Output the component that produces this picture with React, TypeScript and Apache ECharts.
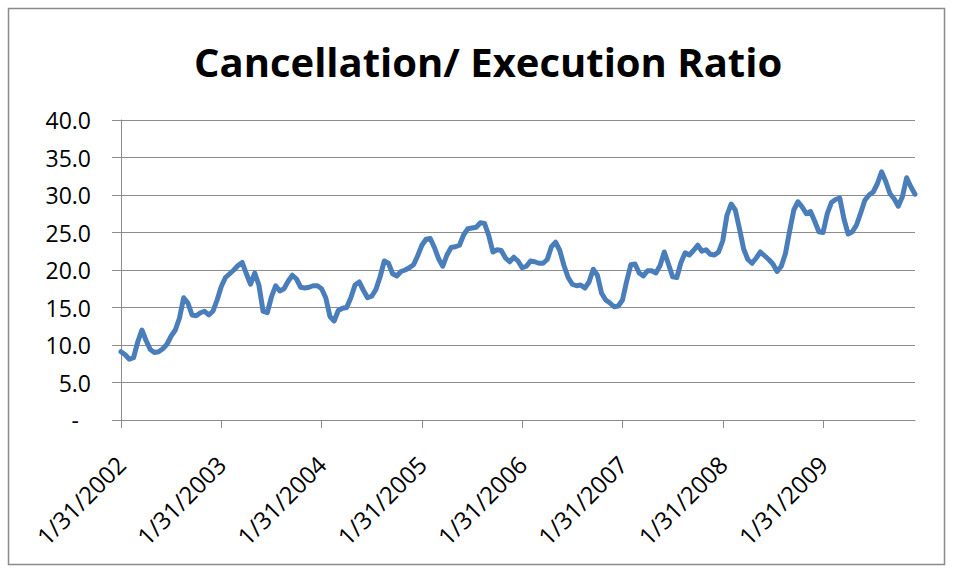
import React, { useEffect, useRef } from "react";
import * as echarts from "echarts";

const TITLE = "Cancellation/ Execution Ratio";

// Semi-monthly observations, first point 1/31/2002, 24 points per year
const ratio: number[] = [
  9.1, 8.7, 8.1, 8.3, 10.4, 12.0, 10.6, 9.4, 9.0, 9.1,
  9.5, 10.1, 11.2, 12.0, 13.6, 16.3, 15.6, 14.0, 13.9, 14.3,
  14.5, 14.0, 14.5, 16.0, 17.8, 19.0, 19.5, 20.0, 20.6, 21.0,
  19.5, 18.1, 19.6, 18.0, 14.5, 14.3, 16.4, 17.9, 17.2, 17.5,
  18.5, 19.3, 18.8, 17.7, 17.6, 17.7, 17.9, 17.9, 17.5, 16.3,
  13.8, 13.2, 14.6, 14.9, 15.0, 16.3, 18.0, 18.4, 17.3, 16.3,
  16.5, 17.4, 19.1, 21.2, 20.9, 19.5, 19.2, 19.8, 20.0, 20.3,
  20.7, 21.9, 23.3, 24.1, 24.2, 23.0, 21.5, 20.5, 22.0, 23.0,
  23.1, 23.3, 24.7, 25.5, 25.6, 25.7, 26.3, 26.2, 24.6, 22.4,
  22.7, 22.6, 21.6, 21.1, 21.7, 21.2, 20.3, 20.5, 21.2, 21.1,
  20.9, 20.9, 21.4, 23.1, 23.7, 22.6, 20.6, 19.0, 18.1, 17.9,
  18.0, 17.6, 18.4, 20.1, 19.3, 16.9, 16.0, 15.6, 15.1, 15.2,
  16.0, 18.5, 20.7, 20.8, 19.6, 19.2, 19.9, 19.9, 19.6, 20.6,
  22.4, 20.8, 19.1, 19.0, 21.0, 22.3, 22.0, 22.6, 23.3, 22.5,
  22.7, 22.1, 22.0, 22.4, 23.9, 27.3, 28.8, 28.0, 25.5, 22.8,
  21.4, 20.9, 21.6, 22.4, 21.9, 21.4, 20.8, 19.8, 20.5, 22.2,
  25.2, 28.0, 29.1, 28.4, 27.5, 27.8, 26.5, 25.1, 25.0, 27.5,
  29.0, 29.4, 29.6, 26.8, 24.8, 25.1, 26.0, 27.6, 29.3, 30.0,
  30.4, 31.5, 33.1, 31.8, 30.2, 29.5, 28.5, 29.8, 32.3, 31.1,
  30.1,
];

const START_YEAR = 2002;
const POINTS_PER_YEAR = 24;

// category labels (dates): even index = month end, odd = mid-month
const monthEnd = [31, 28, 31, 30, 31, 30, 31, 31, 30, 31, 30, 31];
const dates: string[] = ratio.map((_, i) => {
  const y = START_YEAR + Math.floor(i / POINTS_PER_YEAR);
  const k = i % POINTS_PER_YEAR;
  if (k % 2 === 0) {
    const m = k / 2;
    const d = m === 1 && y % 4 === 0 ? 29 : monthEnd[m];
    return `${m + 1}/${d}/${y}`;
  }
  const m = (k + 1) / 2;
  return `${m + 1}/15/${y}`;
});

const Y_MIN = 0;
const Y_MAX = 40;
const Y_STEP = 5;

export default function App() {
  const ref = useRef<HTMLDivElement>(null);
  useEffect(() => {
    if (!ref.current) return;
    const chart = echarts.init(ref.current, undefined, { renderer: "svg" });
    const font = "Open Sans";
    chart.setOption({
      animation: false,
      backgroundColor: "#ffffff",
      title: {
        text: TITLE,
        left: 194,
        top: 41,
        padding: 0,
        textStyle: {
          fontFamily: "Open Sans",
          fontWeight: "bold",
          fontSize: 40,
          color: "#000000",
        },
      },
      graphic: [
        {
          type: "rect",
          shape: { x: 8.5, y: 8.5, width: 936, height: 556 },
          style: { fill: "none", stroke: "#8a8a8a", lineWidth: 1.5 },
          silent: true,
        },
      ],
      grid: { left: 121, right: 39, top: 120, bottom: 152, containLabel: false },
      xAxis: {
        type: "category",
        data: dates,
        boundaryGap: false,
        axisLine: { lineStyle: { color: "#8c8c8c", width: 1 } },
        axisTick: {
          show: true,
          length: 8,
          interval: (i: number) => i % POINTS_PER_YEAR === 0,
          lineStyle: { color: "#8c8c8c" },
        },
        axisLabel: {
          interval: (i: number) => i % POINTS_PER_YEAR === 0,
          rotate: 45,
          margin: 40,
          fontFamily: font,
          fontSize: 24,
          color: "#000000",
        },
        splitLine: { show: false },
      },
      yAxis: {
        type: "value",
        min: Y_MIN,
        max: Y_MAX,
        interval: Y_STEP,
        axisLine: { show: true, lineStyle: { color: "#8c8c8c", width: 1 } },
        axisTick: { show: true, length: 9, lineStyle: { color: "#8c8c8c" } },
        axisLabel: {
          margin: 30,
          fontFamily: font,
          fontSize: 23,
          color: "#000000",
          formatter: (v: number) => (v === 0 ? "{d|-}" : v.toFixed(1)),
          rich: { d: { fontFamily: font, fontSize: 23, padding: [0, 12, 0, 0] } },
        },
        splitLine: { show: true, lineStyle: { color: "#8c8c8c", width: 1 } },
      },
      series: [
        {
          type: "line",
          data: ratio,
          showSymbol: false,
          symbol: "none",
          lineStyle: { color: "#4a7ebb", width: 5, join: "round", cap: "round" },
        },
      ],
    });
    return () => chart.dispose();
  }, []);
  return (
    <div
      ref={ref}
      style={{ position: "fixed", left: 0, top: 0, width: 954, height: 572 }}
    />
  );
}
